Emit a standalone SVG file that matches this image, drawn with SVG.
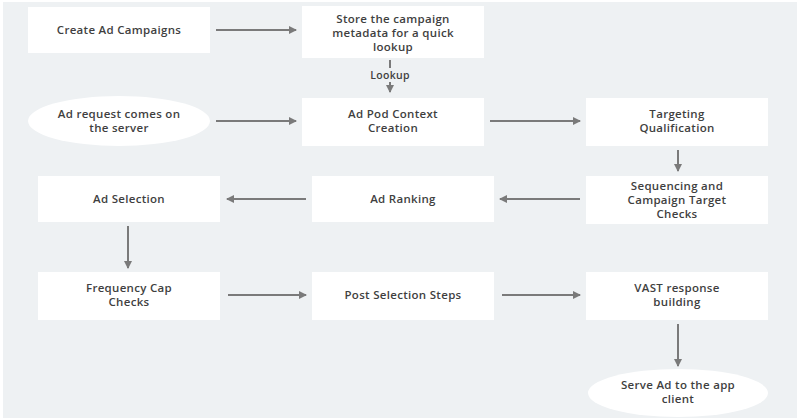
<svg xmlns="http://www.w3.org/2000/svg" width="800" height="420" viewBox="0 0 800 420">
<style>
.n{fill:#fff}
text{font-family:"Open Sans","Liberation Sans",sans-serif;font-size:11.5px;font-weight:600;fill:#3f3f3f;text-anchor:middle;letter-spacing:0.3px}
.c line{stroke:#7a7a7a;stroke-width:2;marker-end:url(#a)}
</style>
<defs><marker id="a" markerWidth="8" markerHeight="8" refX="7" refY="4" orient="auto" markerUnits="userSpaceOnUse"><path d="M0,0L8,4L0,8z" fill="#7a7a7a"/></marker></defs>
<rect x="0" y="0" width="800" height="420" fill="#fff"/>
<rect x="3" y="2" width="794" height="416" fill="#eef1f3"/>
<g id="n1"><rect class="n" x="28" y="7" width="182" height="46"/><text x="119" y="34">Create Ad Campaigns</text></g>
<g id="n2"><rect class="n" x="302" y="6" width="182" height="52"/><text x="393" y="23">Store the campaign</text><text x="393" y="37">metadata for a quick</text><text x="393" y="51">lookup</text></g>
<g id="n3"><ellipse class="n" cx="119" cy="121" rx="91" ry="25"/><text x="119" y="118">Ad request comes on</text><text x="119" y="132">the server</text></g>
<g id="n4"><rect class="n" x="302" y="98" width="182" height="48"/><text x="393" y="118">Ad Pod Context</text><text x="393" y="132">Creation</text></g>
<g id="n5"><rect class="n" x="586" y="98" width="182" height="48"/><text x="677" y="118">Targeting</text><text x="677" y="132">Qualification</text></g>
<g id="n6"><rect class="n" x="586" y="176" width="182" height="48"/><text x="677" y="190">Sequencing and</text><text x="677" y="204">Campaign Target</text><text x="677" y="218">Checks</text></g>
<g id="n7"><rect class="n" x="312" y="176" width="182" height="46"/><text x="403" y="203">Ad Ranking</text></g>
<g id="n8"><rect class="n" x="38" y="176" width="182" height="46"/><text x="129" y="203">Ad Selection</text></g>
<g id="n9"><rect class="n" x="38" y="272" width="182" height="48"/><text x="129" y="292">Frequency Cap</text><text x="129" y="306">Checks</text></g>
<g id="n10"><rect class="n" x="312" y="272" width="182" height="48"/><text x="403" y="299">Post Selection Steps</text></g>
<g id="n11"><rect class="n" x="586" y="272" width="182" height="48"/><text x="677" y="292">VAST response</text><text x="677" y="306">building</text></g>
<g id="n12"><ellipse class="n" cx="678" cy="393" rx="90" ry="24"/><text x="678" y="389">Serve Ad to the app</text><text x="678" y="403">client</text></g>
<g class="c" id="connectors">
<line x1="216" y1="30" x2="296" y2="30"/>
<line x1="390" y1="60" x2="390" y2="92"/>
<line x1="216" y1="121" x2="296" y2="121"/>
<line x1="490" y1="121" x2="580" y2="121"/>
<line x1="678" y1="150" x2="678" y2="171"/>
<line x1="580" y1="199" x2="500" y2="199"/>
<line x1="306" y1="199" x2="227" y2="199"/>
<line x1="128" y1="226" x2="128" y2="268"/>
<line x1="228" y1="295" x2="306" y2="295"/>
<line x1="502" y1="295" x2="580" y2="295"/>
<line x1="678" y1="324" x2="678" y2="366"/>
</g>
<rect x="362" y="68" width="56" height="14" fill="#eef1f3"/>
<text x="390" y="79" style="font-size:10.5px">Lookup</text>
</svg>
